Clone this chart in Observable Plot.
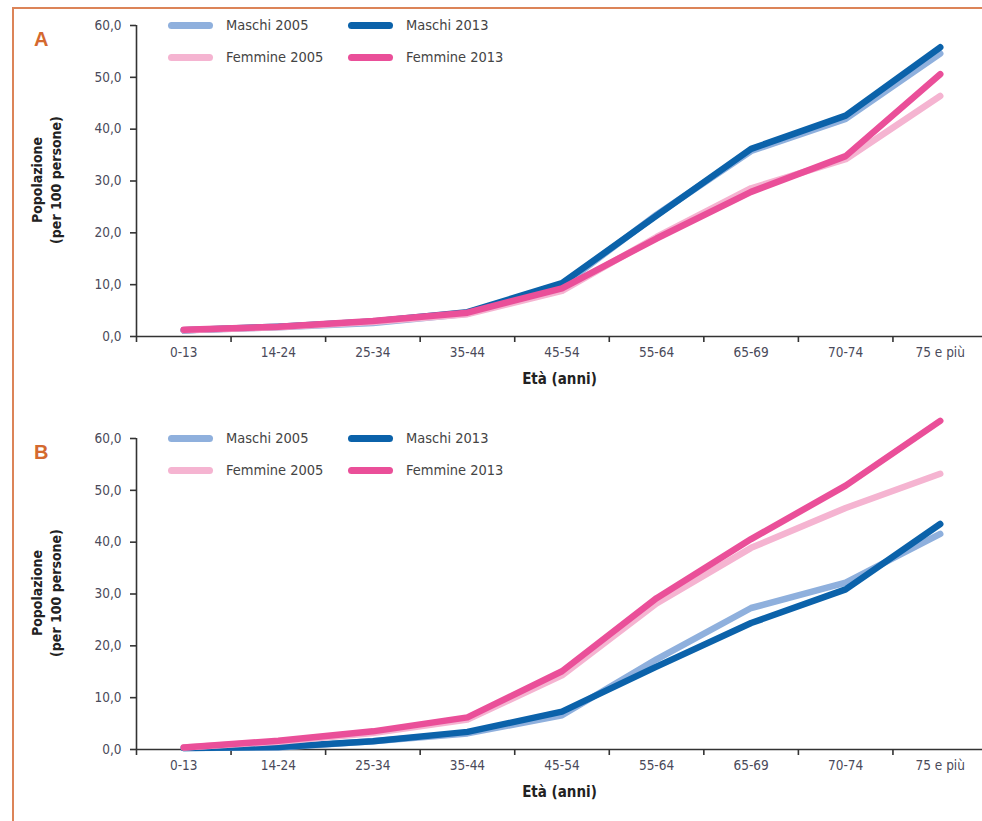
<!DOCTYPE html>
<html>
<head>
<meta charset="utf-8">
<script src="https://cdn.jsdelivr.net/npm/d3@7"></script>
<script src="https://cdn.jsdelivr.net/npm/@observablehq/plot@0.6"></script>
<style>
  html, body { margin: 0; padding: 0; background: #fff; }
  body { width: 982px; height: 821px; overflow: hidden; font-family: "Liberation Sans Narrow", "DejaVu Sans Condensed", "Roboto", sans-serif; }
  #wrap { position: relative; width: 982px; height: 821px; }
  .border { position: absolute; left: 12px; top: 7px; width: 1000px; height: 900px; border-left: 2px solid #dc8458; border-top: 2px solid #dc8458; }
  .panel { position: absolute; left: 0; width: 982px; height: 400px; }
  .letter { position: absolute; left: 34px; font: bold 20px "Liberation Sans", "DejaVu Sans", sans-serif; color: #d4692f; }
  .ytitle { position: absolute; width: 200px; text-align: center; transform: rotate(-90deg); transform-origin: center center; font-weight: bold; font-size: 14px; line-height: 19px; color: #222; }
  .item { position: absolute; display: flex; align-items: center; font-size: 14.5px; color: #444; white-space: nowrap; }
  .sw { width: 45px; height: 7px; border-radius: 4px; margin-right: 13px; }
</style>
</head>
<body>
<div id="wrap">
  <div class="border"></div>
</div>
<script>
// ---- Data ----
const ages = ["0-13", "14-24", "25-34", "35-44", "45-54", "55-64", "65-69", "70-74", "75 e più"];
const seriesNames = ["Maschi 2005", "Maschi 2013", "Femmine 2005", "Femmine 2013"];
const seriesColors = ["#8fb0dd", "#0b62aa", "#f5b4d1", "#ea4f99"];
const yTicks = [0, 10, 20, 30, 40, 50, 60];

// Panel A
const A_maschi2005  = [1.2, 1.8, 2.6, 4.4, 9.8, 23.5, 35.8, 42.0, 54.6];
const A_maschi2013  = [1.2, 1.9, 2.9, 4.7, 10.3, 23.3, 36.2, 42.6, 55.8];
const A_femmine2005 = [1.2, 1.8, 2.8, 4.3, 8.8, 19.2, 28.6, 34.2, 46.4];
const A_femmine2013 = [1.3, 1.9, 3.0, 4.6, 9.3, 18.9, 27.9, 34.8, 50.6];

// Panel B
const B_maschi2005  = [0.3, 0.4, 1.6, 3.1, 6.6, 17.4, 27.3, 32.2, 41.6];
const B_maschi2013  = [0.3, 0.5, 1.6, 3.4, 7.3, 16.0, 24.4, 30.9, 43.5];
const B_femmine2005 = [0.4, 1.5, 3.2, 5.8, 14.3, 28.2, 38.9, 46.6, 53.2];
const B_femmine2013 = [0.4, 1.7, 3.5, 6.2, 15.1, 29.2, 40.6, 50.9, 63.4];

const panels = [
  {letter: "A", top: 0, series: [A_maschi2005, A_maschi2013, A_femmine2005, A_femmine2013]},
  {letter: "B", top: 413, series: [B_maschi2005, B_maschi2013, B_femmine2005, B_femmine2013]}
];

const fmt = d => d.toFixed(1).replace(".", ",");
const wrap = document.getElementById("wrap");
const fontFam = '"Liberation Sans Narrow", "DejaVu Sans Condensed", sans-serif';

for (const p of panels) {
  const rows = [];
  p.series.forEach((vals, s) => {
    vals.forEach((v, i) => rows.push({series: seriesNames[s], pos: i + 0.5, value: v}));
  });

  const chart = Plot.plot({
    width: 982,
    height: 400,
    marginTop: 25,
    marginBottom: 64,
    marginLeft: 136,
    marginRight: 0,
    style: {fontFamily: fontFam, fontSize: "13.5px", color: "#333", background: "transparent", overflow: "visible"},
    x: {domain: [0, ages.length], range: [136, 987]},
    y: {domain: [0, 60]},
    color: {domain: seriesNames, range: seriesColors},
    marks: [
      Plot.ruleY([0], {stroke: "#333", strokeWidth: 1.6}),
      Plot.ruleX([0], {stroke: "#333", strokeWidth: 1.6}),
      Plot.axisY({ticks: yTicks, tickSize: 6, tickPadding: 9, tickFormat: fmt, stroke: "#333", strokeWidth: 1.6, fill: "#4a4a5a", label: null}),
      Plot.axisX({ticks: d3.range(ages.length), tickSize: 6, tickFormat: () => "", stroke: "#333", strokeWidth: 1.6, label: null}),
      Plot.axisX({ticks: ages.map((a, i) => i + 0.5), tickSize: 0, tickPadding: 11, tickFormat: d => ages[Math.floor(d)], fill: "#4a4a5a", label: null}),
      Plot.text(["Età (anni)"], {frameAnchor: "bottom", dy: 47, fontWeight: "bold", fontSize: 15, fill: "#222"}),
      Plot.line(rows, {x: "pos", y: "value", z: "series", stroke: "series", strokeWidth: 6.5, strokeLinecap: "round", strokeLinejoin: "round"})
    ]
  });
  const holder = document.createElement("div");
  holder.className = "panel";
  holder.style.top = p.top + "px";
  holder.appendChild(chart);
  wrap.appendChild(holder);

  const L = document.createElement("div");
  L.className = "letter";
  L.style.top = (p.top + 28) + "px";
  L.textContent = p.letter;
  wrap.appendChild(L);

  const T = document.createElement("div");
  T.className = "ytitle";
  T.innerHTML = "Popolazione<br>(per 100 persone)";
  T.style.left = (47 - 100) + "px";
  T.style.top = (p.top + 180 - 19) + "px";
  wrap.appendChild(T);

  const cols = [168, 348];
  const rowsY = [25, 57];
  seriesNames.forEach((name, s) => {
    const it = document.createElement("div");
    it.className = "item";
    it.style.left = cols[s % 2] + "px";
    it.style.top = (p.top + rowsY[Math.floor(s / 2)] - 10) + "px";
    it.style.height = "20px";
    const sw = document.createElement("span");
    sw.className = "sw";
    sw.style.background = seriesColors[s];
    it.appendChild(sw);
    const tx = document.createElement("span");
    tx.textContent = name;
    it.appendChild(tx);
    wrap.appendChild(it);
  });
}
</script>
</body>
</html>
